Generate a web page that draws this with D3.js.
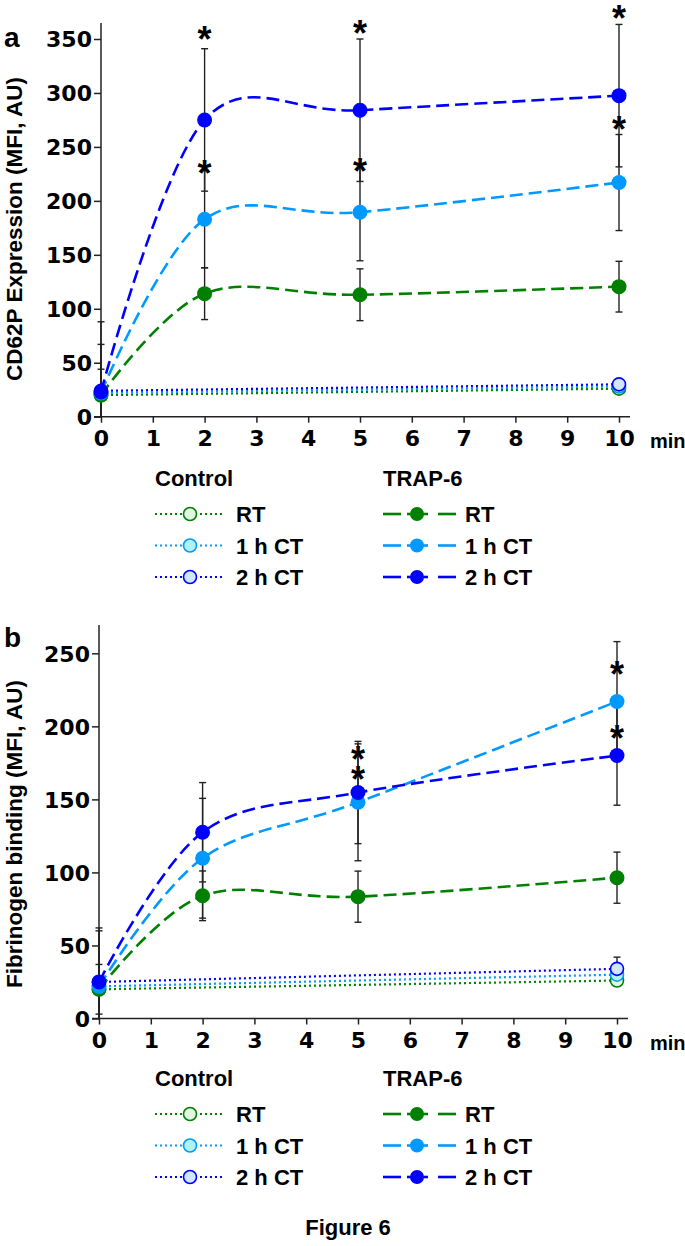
<!DOCTYPE html>
<html>
<head>
<meta charset="utf-8">
<script src="https://cdn.jsdelivr.net/npm/d3@7"></script>
<style>
html,body{margin:0;padding:0;background:#fff;}
svg text{font-family:"Liberation Sans",Arial,sans-serif;font-weight:bold;fill:#000;}
</style>
</head>
<body>
<div id="chart"></div>
<script>
// ---------------- DATA ----------------
const trapTimes = [0, 2, 5, 10];
const controlTimes = [0, 10];
const xTickLabels = ["0","1","2","3","4","5","6","7","8","9","10"];
const seriesNames = ["RT", "1 h CT", "2 h CT"];

// Panel a: CD62P expression
const aYTicks = [0, 50, 100, 150, 200, 250, 300, 350];
const aTrapRT = [20, 114, 113, 120.5];
const aTrapRTsd = [24, 24, 24, 23.5];
const aTrap1h = [22, 183, 189.5, 217];
const aTrap1hsd = [45, 45, 45, 44.5];
const aTrap2h = [23, 275, 284, 297.5];
const aTrap2hsd = [65, 66, 66, 66];
const aCtrlRT = [20, 26];
const aCtrl1h = [22, 28];
const aCtrl2h = [24, 30];
const aStarTimes = [2, 2, 5, 5, 10, 10];
const aStarValues = [356, 231, 361, 233, 375, 272];

// Panel b: Fibrinogen binding
const bYTicks = [0, 50, 100, 150, 200, 250];
const bTrapRT = [20, 84, 83.4, 96.4];
const bTrapRTsd = [17, 17, 17.5, 17.5];
const bTrap1h = [22, 109.7, 148, 217];
const bTrap1hsd = [38, 41, 40, 41];
const bTrap2h = [25, 127.5, 154.7, 180];
const bTrap2hsd = [37, 34, 35, 34];
const bCtrlRT = [20, 26];
const bCtrl1h = [22, 30];
const bCtrl2h = [25, 34];
const bCtrl2hsd = [0, 8];
const bStarTimes = [5, 5, 10, 10];
const bStarValues = [182, 168, 240, 196];

// ---------------- STYLE ----------------
const colors = ["#008000", "#0099ff", "#0000ff"];
const ctrlFills = ["#e3f6e3", "#b0f2ee", "#cfe6fb"];

const W = 685, H = 1246;
const svg = d3.select("#chart").append("svg").attr("width", W).attr("height", H);

function panel(cfg) {
  const g = svg.append("g");
  const x = d3.scaleLinear().domain([0, 10]).range([cfg.x0, cfg.x1]);
  const y = d3.scaleLinear().domain([0, cfg.yMaxTick]).range([cfg.yBottom, cfg.yTopTick]);
  const yAxisTop = y(cfg.yAxisMax);

  // axes lines
  g.append("line").attr("x1", x(0)).attr("x2", x(0)).attr("y1", y(0)).attr("y2", yAxisTop)
    .attr("stroke", "#222").attr("stroke-width", 1.5);
  g.append("line").attr("x1", x(0) - 7).attr("x2", cfg.xAxisEnd).attr("y1", y(0)).attr("y2", y(0))
    .attr("stroke", "#222").attr("stroke-width", 1.5);

  // y ticks
  const yAx = d3.axisLeft(y).tickValues(cfg.yTicks).tickSize(7).tickFormat(d3.format("d"));
  const ya = g.append("g").attr("transform", `translate(${x(0)},0)`).call(yAx);
  ya.select(".domain").remove();
  ya.selectAll(".tick line").attr("stroke", "#222").attr("stroke-width", 1.5);
  ya.selectAll(".tick text").attr("x", -9).attr("dy", "0.36em")
    .style("font-size", "22px").style("font-family", "DejaVu Sans, sans-serif").style("font-weight", "bold")
    .attr("fill", "#000");

  // x ticks
  const xAx = d3.axisBottom(x).tickValues(d3.range(0, 11)).tickSize(6).tickFormat((d, i) => xTickLabels[i]);
  const xa = g.append("g").attr("transform", `translate(0,${y(0)})`).call(xAx);
  xa.select(".domain").remove();
  xa.selectAll(".tick line").attr("stroke", "#222").attr("stroke-width", 1.5);
  xa.selectAll(".tick text").attr("y", 14).attr("dy", "0.71em")
    .style("font-size", "22px").style("font-family", "DejaVu Sans, sans-serif").style("font-weight", "bold")
    .attr("fill", "#000");
  g.append("text").attr("x", 650).attr("y", y(0) + 31).style("font-size", "20px").text("min");

  // y title
  g.append("text").attr("transform", `translate(${cfg.titleX},${cfg.titleY}) rotate(-90)`)
    .attr("text-anchor", "middle").style("font-size", "22.5px").text(cfg.title);
  // panel letter
  g.append("text").attr("x", 4).attr("y", cfg.letterY).style("font-size", "28px").text(cfg.letter);

  const line = d3.line().x(d => x(d[0])).y(d => y(d[1])).curve(d3.curveCardinal.tension(0));
  const lineLin = d3.line().x(d => x(d[0])).y(d => y(d[1]));

  // control dotted lines
  cfg.ctrl.forEach((vals, i) => {
    g.append("path").attr("d", lineLin(controlTimes.map((t, j) => [t, vals[j]])))
      .attr("fill", "none").attr("stroke", colors[i]).attr("stroke-width", 2.2)
      .attr("stroke-dasharray", "2,3");
  });
  // trap dashed curves
  cfg.trap.forEach((vals, i) => {
    g.append("path").attr("d", line(trapTimes.map((t, j) => [t, vals[j]])))
      .attr("fill", "none").attr("stroke", colors[i]).attr("stroke-width", 2.6)
      .attr("stroke-dasharray", "13,6");
  });
  // error bars
  function errBars(times, vals, sds) {
    times.forEach((t, j) => {
      const sd = sds[j];
      if (!sd) return;
      const hi = vals[j] + sd, lo = Math.max(0, vals[j] - sd);
      const cx = x(t);
      g.append("line").attr("x1", cx).attr("x2", cx).attr("y1", y(hi)).attr("y2", y(lo))
        .attr("stroke", "#222").attr("stroke-width", 1.4);
      g.append("line").attr("x1", cx - 3.5).attr("x2", cx + 3.5).attr("y1", y(hi)).attr("y2", y(hi))
        .attr("stroke", "#222").attr("stroke-width", 1.4);
      if (vals[j] - sd > 0)
        g.append("line").attr("x1", cx - 3.5).attr("x2", cx + 3.5).attr("y1", y(lo)).attr("y2", y(lo))
          .attr("stroke", "#222").attr("stroke-width", 1.4);
    });
  }
  cfg.trap.forEach((vals, i) => errBars(trapTimes, vals, cfg.trapSd[i]));
  if (cfg.ctrlSd) cfg.ctrl.forEach((vals, i) => { if (cfg.ctrlSd[i]) errBars(controlTimes, vals, cfg.ctrlSd[i]); });

  // control markers
  cfg.ctrl.forEach((vals, i) => {
    g.selectAll(null).data(controlTimes.map((t, j) => [t, vals[j]])).enter().append("circle")
      .attr("cx", d => x(d[0])).attr("cy", d => y(d[1])).attr("r", 6.5)
      .attr("fill", ctrlFills[i]).attr("stroke", colors[i]).attr("stroke-width", 1.6);
  });
  // trap markers
  cfg.trap.forEach((vals, i) => {
    g.selectAll(null).data(trapTimes.map((t, j) => [t, vals[j]])).enter().append("circle")
      .attr("cx", d => x(d[0])).attr("cy", d => y(d[1])).attr("r", 7.5)
      .attr("fill", colors[i]);
  });
  // stars
  cfg.starTimes.forEach((t, k) => {
    g.append("text").attr("x", x(t)).attr("y", y(cfg.starValues[k]) + 19)
      .attr("text-anchor", "middle").style("font-size", "36px").text("*");
  });

  // legend
  const lg = g.append("g");
  lg.append("text").attr("x", 155).attr("y", cfg.legendY).style("font-size", "22px").text("Control");
  lg.append("text").attr("x", 383).attr("y", cfg.legendY).style("font-size", "22px").text("TRAP-6");
  seriesNames.forEach((name, i) => {
    const cy = cfg.legendY + 28 + i * 31.5;
    lg.append("line").attr("x1", 155).attr("x2", 222).attr("y1", cy).attr("y2", cy)
      .attr("stroke", colors[i]).attr("stroke-width", 2.2).attr("stroke-dasharray", "2,3");
    lg.append("circle").attr("cx", 190).attr("cy", cy).attr("r", 6.5)
      .attr("fill", ctrlFills[i]).attr("stroke", colors[i]).attr("stroke-width", 1.6);
    lg.append("text").attr("x", 236).attr("y", cy + 8).style("font-size", "22px").text(name);

    lg.append("line").attr("x1", 383).attr("x2", 401).attr("y1", cy).attr("y2", cy)
      .attr("stroke", colors[i]).attr("stroke-width", 2.6);
    lg.append("line").attr("x1", 407).attr("x2", 428).attr("y1", cy).attr("y2", cy)
      .attr("stroke", colors[i]).attr("stroke-width", 2.6);
    lg.append("line").attr("x1", 438).attr("x2", 456).attr("y1", cy).attr("y2", cy)
      .attr("stroke", colors[i]).attr("stroke-width", 2.6);
    lg.append("circle").attr("cx", 417).attr("cy", cy).attr("r", 7)
      .attr("fill", colors[i]);
    lg.append("text").attr("x", 465).attr("y", cy + 8).style("font-size", "22px").text(name);
  });
}

panel({
  x0: 101, x1: 619, xAxisEnd: 630,
  yBottom: 416.7, yTopTick: 39, yMaxTick: 350, yAxisMax: 364.8, yTicks: aYTicks,
  title: "CD62P Expression (MFI, AU)", titleX: 22, titleY: 229,
  letter: "a", letterY: 47,
  ctrl: [aCtrlRT, aCtrl1h, aCtrl2h],
  trap: [aTrapRT, aTrap1h, aTrap2h],
  trapSd: [aTrapRTsd, aTrap1hsd, aTrap2hsd],
  starTimes: aStarTimes, starValues: aStarValues,
  legendY: 486
});

panel({
  x0: 99, x1: 617, xAxisEnd: 628,
  yBottom: 1018.5, yTopTick: 653.3, yMaxTick: 250, yAxisMax: 269.4, yTicks: bYTicks,
  title: "Fibrinogen binding (MFI, AU)", titleX: 22, titleY: 834,
  letter: "b", letterY: 647,
  ctrl: [bCtrlRT, bCtrl1h, bCtrl2h],
  ctrlSd: [null, null, bCtrl2hsd],
  trap: [bTrapRT, bTrap1h, bTrap2h],
  trapSd: [bTrapRTsd, bTrap1hsd, bTrap2hsd],
  starTimes: bStarTimes, starValues: bStarValues,
  legendY: 1086
});

svg.append("text").attr("x", 348).attr("y", 1235).attr("text-anchor", "middle")
  .style("font-size", "22px").text("Figure 6");
</script>
</body>
</html>
